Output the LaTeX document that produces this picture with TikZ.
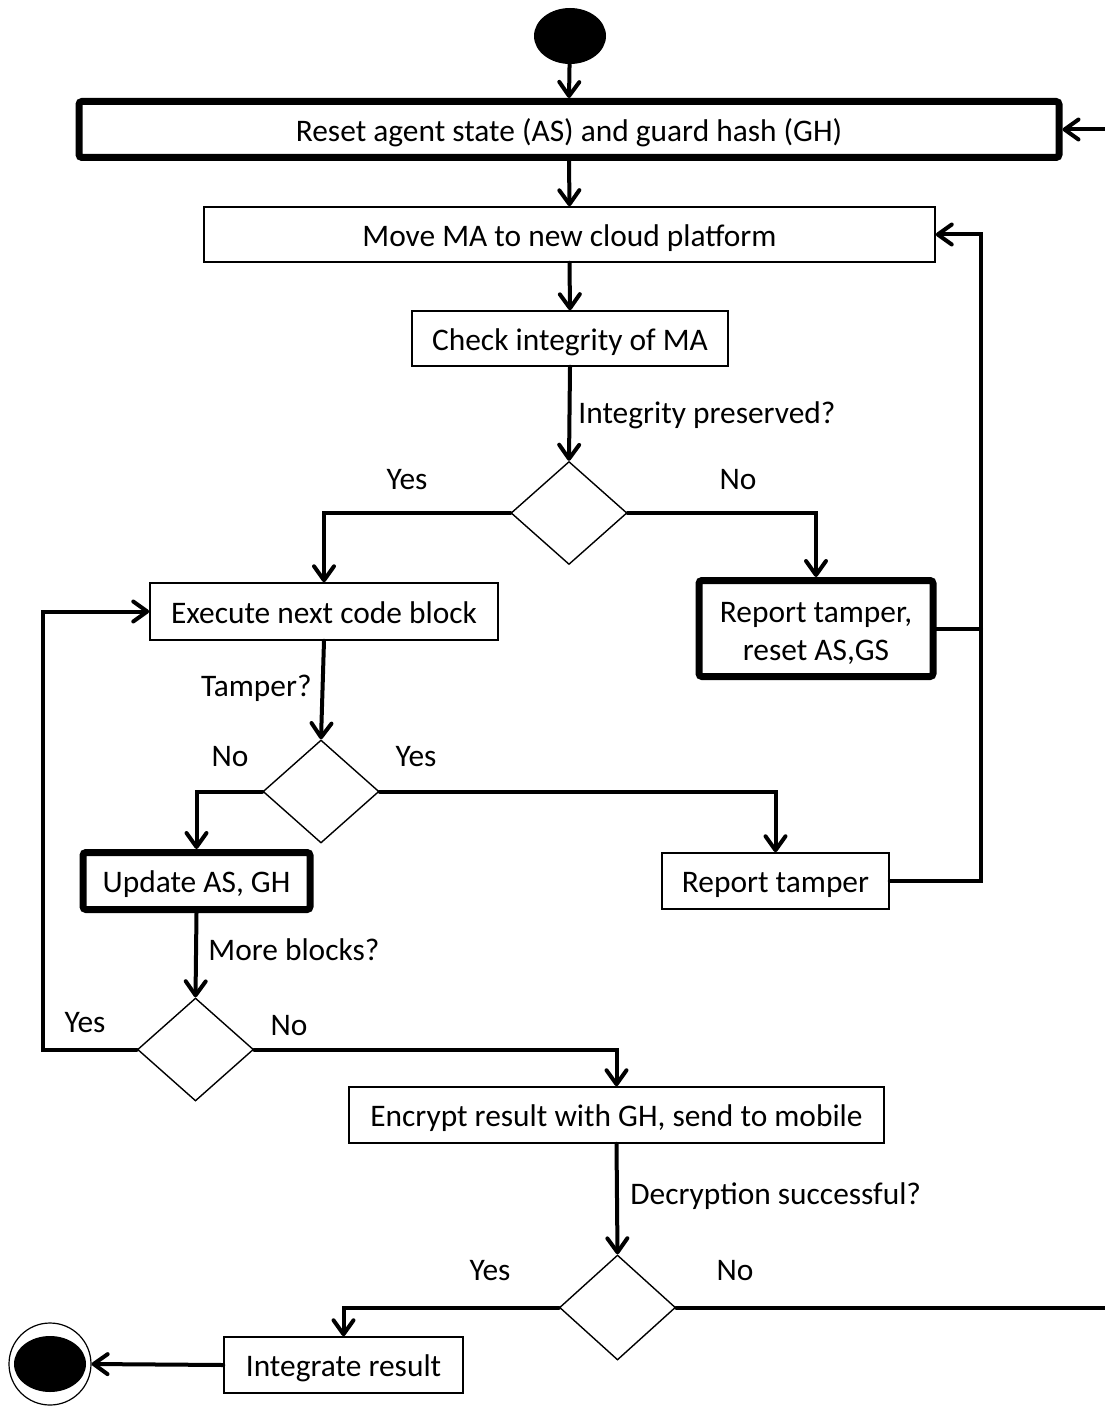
\documentclass[tikz,border=0pt]{standalone}
\usepackage{fontspec}
\setmainfont{Carlito}
\usetikzlibrary{arrows.meta,shapes.geometric}
\begin{document}
\begin{tikzpicture}[x=0.5pt,y=-0.5pt,
  font=\fontsize{15.7}{19}\selectfont,
  frame/.style={draw,rectangle,inner sep=0pt,line width=0.75pt,align=center},
  oneline/.style={text height=15.2pt,text depth=3.6pt},
  box/.style={frame,oneline},
  heavyframe/.style={frame,line width=3.5pt,rounded corners=1.5pt},
  heavybox/.style={heavyframe,oneline},
  decision/.style={draw,diamond,inner sep=0pt,line width=0.7pt,minimum width=58pt,minimum height=51.5pt},
  conn/.style={line width=2pt,line cap=round,line join=miter},
  arr/.style={conn,-{Straight Barb[length=7pt,width=10pt,line cap=round,line join=round]}},
  lbl/.style={inner sep=0pt,text height=13pt,text depth=2.6pt}]
\useasboundingbox (0,0) rectangle (1104,1406);

% initial and final states
\node[ellipse,fill=black,minimum width=36pt,minimum height=28pt,inner sep=0pt] (start) at (570,36) {};
\node[circle,draw,line width=0.6pt,minimum size=41pt,inner sep=0pt] (finish) at (50,1364) {};
\node[ellipse,fill=black,minimum width=36pt,minimum height=28pt,inner sep=0pt] at (50,1364) {};

% activities
\node[heavybox,minimum width=490pt,minimum height=28pt] (reset) at (569,129.5) {Reset agent state (AS) and guard hash (GH)};
\node[box,minimum width=365.5pt,minimum height=27.5pt] (move) at (569.5,234.5) {Move MA to new cloud platform};
\node[box,minimum width=158pt,minimum height=27.5pt] (check) at (570,338.5) {Check integrity of MA};
\node[heavyframe,minimum width=117pt,minimum height=48pt] (rtone) at (816,628.5) {\rule{0pt}{15pt}Report tamper,\\reset AS,GS};
\node[box,minimum width=174pt,minimum height=28.5pt] (exec) at (324,611.5) {Execute next code block};
\node[heavybox,minimum width=113.5pt,minimum height=28.5pt] (upd) at (196.5,881) {Update AS, GH};
\node[box,minimum width=113.5pt,minimum height=28pt] (rttwo) at (775.5,881) {Report tamper};
\node[box,minimum width=267.5pt,minimum height=28pt] (enc) at (616.5,1115) {Encrypt result with GH, send to mobile};
\node[box,minimum width=119.5pt,minimum height=28pt] (integ) at (343.5,1365) {Integrate result};

% decisions
\node[decision] (dA) at (569,513) {};
\node[decision] (dB) at (321,791.5) {};
\node[decision] (dC) at (195.5,1049.5) {};
\node[decision,minimum height=52.5pt] (dD) at (617.5,1307.5) {};

% bends of the return paths
\coordinate (rbus) at (981,884);
\coordinate (rtop) at (981,234.5);
\coordinate (loop) at (43,611.5);
\coordinate (outer) at (1107,129.5);

% flow
\draw[arr] (start) -- (reset.north);
\draw[arr] (reset.south) -- (move.north);
\draw[arr] (move.south) -- (check.north);
\draw[arr] (check.south) -- (dA.north);
\draw[arr] (dA.west) -| (exec.north);
\draw[arr] (dA.east) -| (rtone.north);
\draw[conn] (rtone.east) -- (rtone.east -| rbus);
\draw[arr] (rttwo.east) -| (rtop) -- (move.east);
\draw[arr] (exec.south) -- (dB.north);
\draw[arr] (dB.west) -| (upd.north);
\draw[arr] (dB.east) -| (rttwo.north);
\draw[arr] (upd.south) -- (dC.north);
\draw[arr] (dC.west) -| (loop) -- (exec.west);
\draw[arr] (dC.east) -| (enc.north);
\draw[arr] (enc.south) -- (dD.north);
\draw[arr] (dD.west) -| (integ.north);
\draw[arr] (dD.east) -| (outer) -- (reset.east);
\draw[arr] (integ.west) -- (finish.east);

% guard labels
\node[lbl,anchor=west] at (578,413) {Integrity preserved?};
\node[lbl] at (407,479) {Yes};
\node[lbl] at (738,479) {No};
\node[lbl,anchor=east] at (312,686) {Tamper?};
\node[lbl] at (230,756) {No};
\node[lbl] at (416,756) {Yes};
\node[lbl,anchor=west] at (208,950) {More blocks?};
\node[lbl] at (85,1022) {Yes};
\node[lbl] at (289,1025) {No};
\node[lbl,anchor=west] at (630,1194) {Decryption successful?};
\node[lbl] at (490,1270) {Yes};
\node[lbl] at (735,1270) {No};
\end{tikzpicture}
\end{document}
